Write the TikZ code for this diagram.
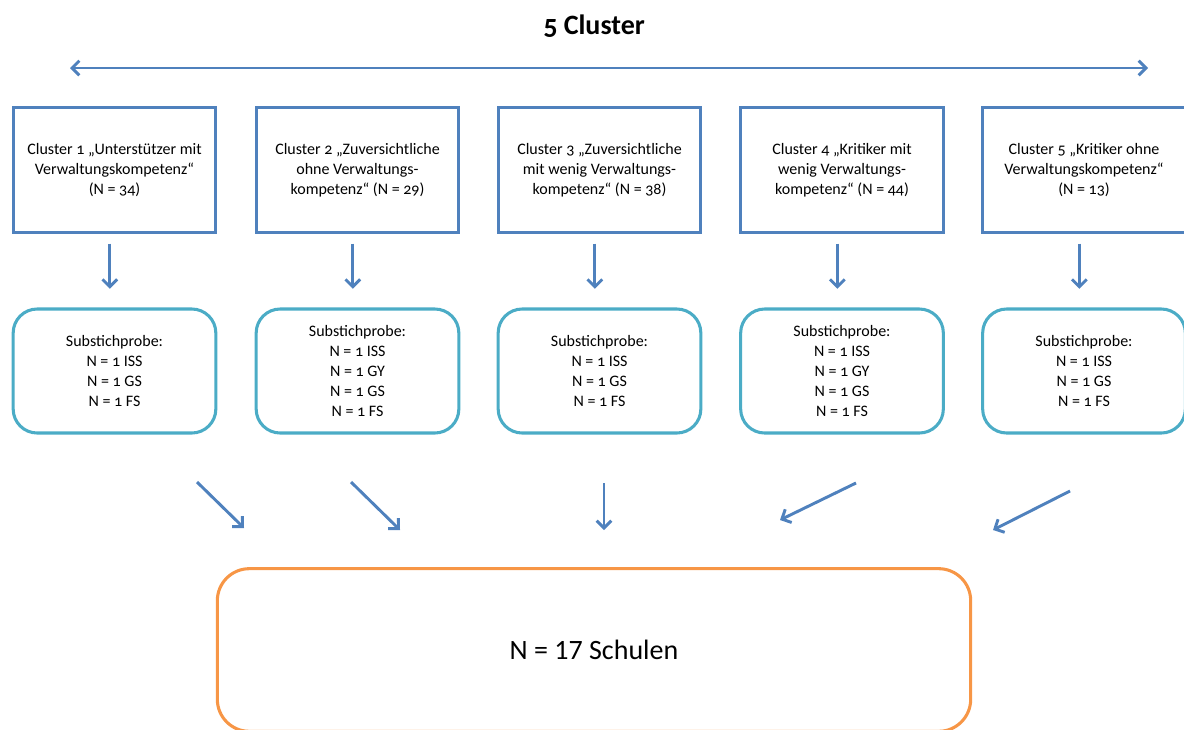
\documentclass[tikz,border=0pt]{standalone}
\usepackage{fontspec}
\setmainfont{Carlito}[Numbers=OldStyle]
\newfontfamily\lining{Carlito}
\usetikzlibrary{arrows.meta}
\definecolor{cblue}{HTML}{4F81BD}
\definecolor{cteal}{HTML}{4BACC6}
\definecolor{corange}{HTML}{F79646}
\tikzset{
  clusterbox/.style={draw=cblue, line width=2.3pt, minimum width=152pt, minimum height=94pt, align=center, inner sep=2pt, font=\fontsize{12}{15}\selectfont},
  subbox/.style={draw=cteal, line width=2.3pt, rounded corners=18pt, minimum width=152pt, minimum height=93pt, align=center, inner sep=2pt, font=\fontsize{12}{15}\selectfont},
  totalbox/.style={draw=corange, line width=2.3pt, rounded corners=24pt, minimum width=565pt, minimum height=122pt, align=center, font=\lining\fontsize{21}{25}\selectfont},
  arr/.style={draw=cblue, line width=2.2pt, -{Straight Barb[length=5.5pt,width=11pt]}},
  darr/.style={draw=cblue, line width=2.2pt, {Straight Barb[length=5.5pt,width=11pt]}-{Straight Barb[length=5.5pt,width=11pt]}},
}
\begin{document}
\begin{tikzpicture}[x=0.75pt,y=-0.75pt]
\useasboundingbox (0,0) rectangle (1184,729);
\node[font=\fontsize{21}{25}\selectfont\bfseries] (title) at (594,26) {5 Cluster};
\coordinate (L) at (70,68);
\coordinate (R) at (1148,68);
\draw[darr] (L) -- (R);

\node[clusterbox] (c1) at (114.5,170) {Cluster 1 „Unterstützer mit\\Verwaltungskompetenz“\\(N = 34)};
\node[clusterbox] (c2) at (357.5,170) {Cluster 2 „Zuversichtliche\\ohne Verwaltungs-\\kompetenz“ (N = 29)};
\node[clusterbox] (c3) at (599.5,170) {Cluster 3 „Zuversichtliche\\mit wenig Verwaltungs-\\kompetenz“ (N = 38)};
\node[clusterbox] (c4) at (842,170) {Cluster 4 „Kritiker mit\\wenig Verwaltungs-\\kompetenz“ (N = 44)};
\node[clusterbox] (c5) at (1084,170) {Cluster 5 „Kritiker ohne\\Verwaltungskompetenz“\\(N = 13)};

\node[subbox] (s1) at (114.5,371) {Substichprobe:\\N = 1 ISS\\N = 1 GS\\N = 1 FS};
\node[subbox] (s2) at (357.5,371) {Substichprobe:\\N = 1 ISS\\N = 1 GY\\N = 1 GS\\N = 1 FS};
\node[subbox] (s3) at (599.5,371) {Substichprobe:\\N = 1 ISS\\N = 1 GS\\N = 1 FS};
\node[subbox] (s4) at (842,371) {Substichprobe:\\N = 1 ISS\\N = 1 GY\\N = 1 GS\\N = 1 FS};
\node[subbox] (s5) at (1084,371) {Substichprobe:\\N = 1 ISS\\N = 1 GS\\N = 1 FS};

\foreach \i in {1,...,5}{
  \draw[arr, shorten <=7pt, shorten >=14pt] ([xshift=-3.5pt]c\i.south) -- ([xshift=-3.5pt]s\i.north);
}

\node[totalbox] (t) at (594,650) {N = 17 Schulen};

\coordinate (a1s) at (197,482); \coordinate (a1e) at (244,528);
\coordinate (a2s) at (351,482); \coordinate (a2e) at (400,530);
\coordinate (a3s) at (604,483); \coordinate (a3e) at (604,530);
\coordinate (a4s) at (856,483); \coordinate (a4e) at (780,520);
\coordinate (a5s) at (1070,491); \coordinate (a5e) at (993,530);
\foreach \i in {1,...,5}{
  \draw[arr] (a\i s) -- (a\i e);
}
\end{tikzpicture}
\end{document}
